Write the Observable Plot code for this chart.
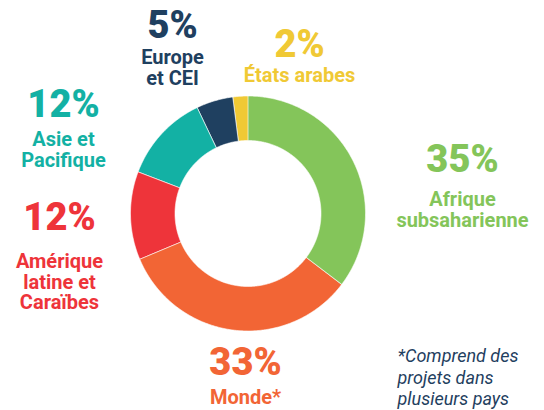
<!DOCTYPE html>
<html>
<head>
<meta charset="utf-8">
<script src="https://cdn.jsdelivr.net/npm/d3@7"></script>
<script src="https://cdn.jsdelivr.net/npm/@observablehq/plot@0.6"></script>
<style>
  html, body { margin: 0; padding: 0; background: #fff; }
  #chart svg { display: block; }
</style>
</head>
<body>
<div id="chart"></div>
<script>
// ---- data ----
const regions = ["Afrique subsaharienne", "Monde*", "Amérique latine et Caraïbes", "Asie et Pacifique", "Europe et CEI", "États arabes"];
const shares = [35, 33, 12, 12, 5, 2];
const percentLabels = ["35%", "33%", "12%", "12%", "5%", "2%"];
const nameLabels = ["Afrique\nsubsaharienne", "Monde*", "Amérique\nlatine et\nCaraïbes", "Asie et\nPacifique", "Europe\net CEI", "États arabes"];
const colors = ["#84C55A", "#F26535", "#EE343A", "#13B1A4", "#1F4060", "#F0C935"];
const footnote = "*Comprend des\nprojets dans\nplusieurs pays";

// ---- layout (not data) ----
const center = {x: 247.5, y: 213}, outerR = 117.5, innerR = 73;
const labelLayout = [
  {x: 462, yNum: 145, yName: 191},
  {x: 245, yNum: 348, yName: 389},
  {x: 59, yNum: 203, yName: 253},
  {x: 63, yNum: 90, yName: 131},
  {x: 172, yNum: 11, yName: 49},
  {x: 299, yNum: 30, yName: 67}
];
const footLayout = {x: 397, y: 347};

const table = regions.map((name, i) => ({
  name, share: shares[i], pct: percentLabels[i], label: nameLabels[i],
  x: labelLayout[i].x, yNum: labelLayout[i].yNum, yName: labelLayout[i].yName
}));

const arcs = d3.pie().sort(null).value(d => d.share)(table);
const pts = arcs.flatMap(a => {
  const a0 = a.startAngle, a1 = a.endAngle;
  const n = Math.max(2, Math.ceil((a1 - a0) / 0.01));
  const out = [];
  for (let i = 0; i <= n; i++) {
    const t = a0 + (a1 - a0) * i / n;
    out.push({name: a.data.name, x: center.x + outerR * Math.sin(t), y: center.y - outerR * Math.cos(t)});
  }
  for (let i = n; i >= 0; i--) {
    const t = a0 + (a1 - a0) * i / n;
    out.push({name: a.data.name, x: center.x + innerR * Math.sin(t), y: center.y - innerR * Math.cos(t)});
  }
  return out;
});

const chart = Plot.plot({
  width: 544,
  height: 410,
  margin: 0,
  axis: null,
  x: {type: "identity"},
  y: {type: "identity"},
  color: {domain: regions, range: colors},
  style: {fontFamily: "Roboto, sans-serif", background: "#fff"},
  marks: [
    Plot.line(pts, {x: "x", y: "y", z: "name", fill: "name", stroke: "white", strokeWidth: 0.6, curve: "linear-closed"}),
    Plot.text(table, {x: "x", y: "yNum", text: "pct", fill: "name", fontSize: 38, fontWeight: 900, lineAnchor: "top", textAnchor: "middle"}),
    Plot.text(table, {x: "x", y: "yName", text: "label", fill: "name", fontSize: 20, fontWeight: 700, lineAnchor: "top", lineHeight: 1.03, textAnchor: "middle"}),
    Plot.text([footnote], {x: footLayout.x, y: footLayout.y, text: d => d, fill: "#1F4060", fontSize: 18, fontStyle: "italic", lineAnchor: "top", lineHeight: 1.17, textAnchor: "start"})
  ]
});
document.getElementById("chart").append(chart);
</script>
</body>
</html>
